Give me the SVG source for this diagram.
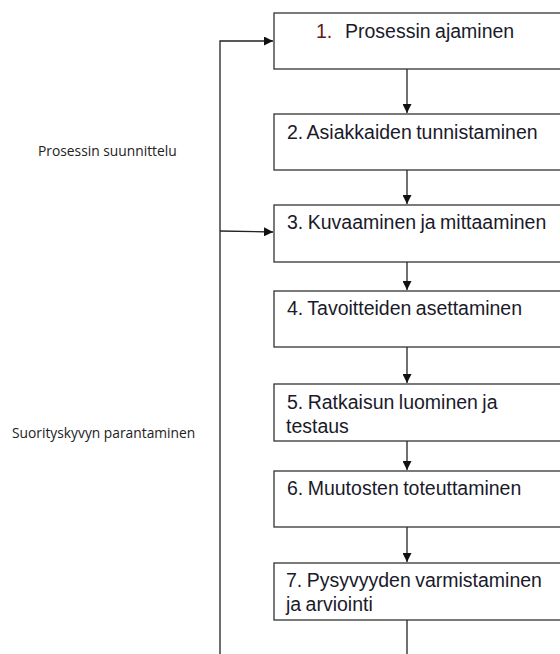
<svg xmlns="http://www.w3.org/2000/svg" width="560" height="654" viewBox="0 0 560 654">
<defs>
<style>
.box{fill:#fff;stroke:#333;stroke-width:1.3}
.t{font-family:"Liberation Sans",Arial,sans-serif;font-size:19.5px;fill:#1a1a2a;word-spacing:-1px}
.side{font-family:"Open Sans","Noto Sans",sans-serif;font-size:13.8px;fill:#222}
.ln{fill:none;stroke:#222;stroke-width:1.3}
</style>
<marker id="ah" viewBox="0 0 10 10" refX="10" refY="5" markerWidth="9" markerHeight="9" markerUnits="userSpaceOnUse" orient="auto"><path d="M0,0 L10,5 L0,10 Z" fill="#111"/></marker>
</defs>
<rect width="560" height="654" fill="#fff"/>
<text class="side" x="38" y="156">Prosessin suunnittelu</text>
<text class="side" x="12" y="438">Suorityskyvyn parantaminen</text>
<g id="connectors">
<path class="ln" d="M220,654 V41 H273" marker-end="url(#ah)"/>
<path class="ln" d="M220,231 L273,232" marker-end="url(#ah)"/>
<path class="ln" d="M407,69 V113" marker-end="url(#ah)"/>
<path class="ln" d="M407,170 V204" marker-end="url(#ah)"/>
<path class="ln" d="M407,262 V290" marker-end="url(#ah)"/>
<path class="ln" d="M407,347 V383" marker-end="url(#ah)"/>
<path class="ln" d="M407,441 V470" marker-end="url(#ah)"/>
<path class="ln" d="M407,527 V562" marker-end="url(#ah)"/>
<path class="ln" d="M407,620 V654"/>
</g>
<g id="n1"><rect class="box" x="274" y="13" width="320" height="56"/><text class="t" x="316" y="38"><tspan fill="#5a1a1a">1.</tspan><tspan x="345">Prosessin ajaminen</tspan></text></g>
<g id="n2"><rect class="box" x="274" y="114" width="320" height="56"/><text class="t" x="287" y="139">2. Asiakkaiden tunnistaminen</text></g>
<g id="n3"><rect class="box" x="274" y="205" width="320" height="57"/><text class="t" x="287" y="229">3. Kuvaaminen ja mittaaminen</text></g>
<g id="n4"><rect class="box" x="274" y="291" width="320" height="56"/><text class="t" x="287" y="315">4. Tavoitteiden asettaminen</text></g>
<g id="n5"><rect class="box" x="274" y="384" width="320" height="57"/><text class="t" x="287" y="409">5. Ratkaisun luominen ja</text><text class="t" x="286" y="433">testaus</text></g>
<g id="n6"><rect class="box" x="274" y="471" width="320" height="56"/><text class="t" x="287" y="495">6. Muutosten toteuttaminen</text></g>
<g id="n7"><rect class="box" x="274" y="563" width="320" height="57"/><text class="t" x="286" y="587">7. Pysyvyyden varmistaminen</text><text class="t" x="286" y="611">ja arviointi</text></g>
</svg>
